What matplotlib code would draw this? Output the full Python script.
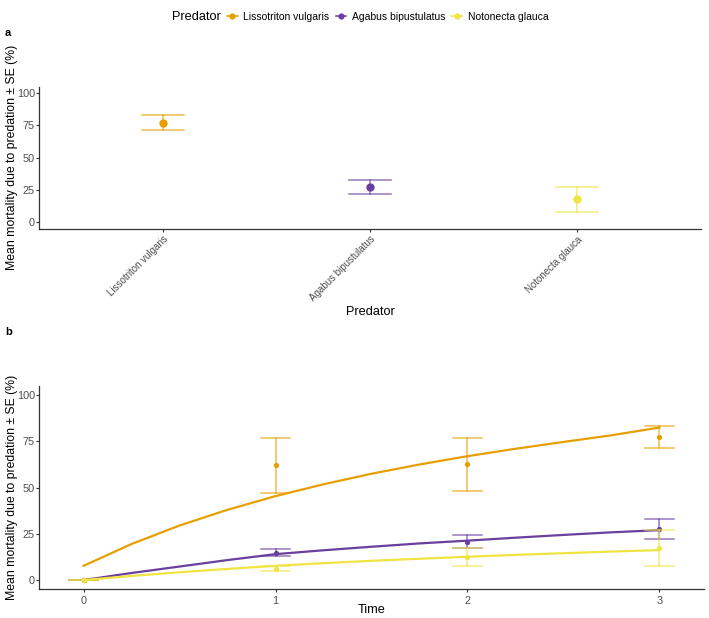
import numpy as np
import matplotlib
matplotlib.use("Agg")
import matplotlib.pyplot as plt
from matplotlib.lines import Line2D

plt.rcParams['font.family'] = ['Liberation Sans', 'DejaVu Sans']

# ---- data ----
predators = ["Lissotriton vulgaris", "Agabus bipustulatus", "Notonecta glauca"]
colors = ["#E69F00", "#6A3F9E", "#F0E442"]

# panel a: overall mean mortality and SE bounds
mean_a = [77.0, 27.4, 17.6]
lower_a = [71.1, 22.2, 7.8]
upper_a = [83.2, 32.6, 27.1]

# panel b: mean mortality per time point
times = [0, 1, 2, 3]
mean_b = {
    "Lissotriton vulgaris": [0, 62.2, 62.7, 77.5],
    "Agabus bipustulatus": [0, 14.8, 20.7, 27.6],
    "Notonecta glauca": [0, 6.1, 12.6, 17.5],
}
lower_b = {
    "Lissotriton vulgaris": [0, 47.2, 48.3, 71.4],
    "Agabus bipustulatus": [0, 13.0, 17.1, 22.2],
    "Notonecta glauca": [0, 4.9, 7.6, 7.7],
}
upper_b = {
    "Lissotriton vulgaris": [0, 77.1, 77.1, 83.2],
    "Agabus bipustulatus": [0, 16.6, 24.3, 32.8],
    "Notonecta glauca": [0, 7.7, 17.1, 27.0],
}

# fitted curves, every quarter time unit
fit_t = [0, 0.25, 0.5, 0.75, 1, 1.25, 1.5, 1.75, 2, 2.25, 2.5, 2.75, 3]
fit_b = {
    "Lissotriton vulgaris": [7.7, 19.5, 29.5, 38.0, 45.4, 51.8, 57.5, 62.5, 67.0, 71.0, 74.7, 78.3, 82.5],
    "Agabus bipustulatus": [0, 3.8, 7.3, 10.8, 14.0, 16.1, 18.0, 19.8, 21.3, 22.9, 24.4, 25.8, 27.0],
    "Notonecta glauca": [0, 2.2, 4.2, 6.0, 7.7, 9.1, 10.4, 11.5, 12.6, 13.6, 14.5, 15.4, 16.2],
}

tick_col = "#4D4D4D"
title_size = 9.2

fig = plt.figure(figsize=(7.09, 6.18), dpi=100)
ax_a = fig.add_axes([0.055, 0.630, 0.9337, 0.2298])
ax_b = fig.add_axes([0.055, 0.0465, 0.938, 0.329])


def style(ax, ylab_x):
    for s in ["top", "right"]:
        ax.spines[s].set_visible(False)
    for s in ["left", "bottom"]:
        ax.spines[s].set_color("#333333")
        ax.spines[s].set_linewidth(0.9)
    ax.tick_params(colors="#333333", labelcolor=tick_col, labelsize=7.8,
                   length=2, width=0.8, pad=1)
    ax.set_ylim(-5, 105)
    ax.set_yticks([0, 25, 50, 75, 100])
    ax.set_ylabel("Mean mortality due to predation ± SE (%)", fontsize=8.8)
    ax.yaxis.set_label_coords(ylab_x, 0.5)


# ---- panel a ----
xa = np.arange(1, len(predators) + 1)
for i, p in enumerate(predators):
    ax_a.plot([xa[i], xa[i]], [lower_a[i], upper_a[i]], color=colors[i], lw=1.1, alpha=0.7)
    for yv in (lower_a[i], upper_a[i]):
        ax_a.plot([xa[i] - 0.1, xa[i] + 0.1], [yv, yv], color=colors[i], lw=1.1, alpha=0.7)
    ax_a.plot(xa[i], mean_a[i], "o", color=colors[i], ms=6, mec="none")
style(ax_a, -0.031)
ax_a.set_xlim(0.4, 3.6)
ax_a.set_xticks(xa)
ax_a.set_xticklabels(predators, rotation=45, ha="right", rotation_mode="anchor", fontsize=7.0)
ax_a.tick_params(axis="x", pad=2)
ax_a.set_xlabel("Predator", fontsize=title_size, va="center")
ax_a.xaxis.set_label_coords(0.5, -0.588)

# ---- panel b ----
for i, p in enumerate(predators):
    for j, t in enumerate(times):
        ax_b.plot([t, t], [lower_b[p][j], upper_b[p][j]], color=colors[i], lw=1.1, alpha=0.7)
        for yv in (lower_b[p][j], upper_b[p][j]):
            ax_b.plot([t - 0.075, t + 0.075], [yv, yv], color=colors[i], lw=1.1, alpha=0.7)
    ax_b.plot(fit_t, fit_b[p], color=colors[i], lw=1.6)
    ax_b.plot(times, mean_b[p], "o", color=colors[i], ms=3.8, mec="none")
style(ax_b, -0.031)
ax_b.set_xlim(-0.2325, 3.2325)
ax_b.set_xticks(times)
ax_b.tick_params(axis="x", pad=2.5)
ax_b.set_xlabel("Time", fontsize=title_size, va="center")
ax_b.xaxis.set_label_coords(0.5, -0.102)

# panel tags
fig.text(5 / 709, 1 - 33 / 618, "a", fontsize=8, fontweight="bold", va="center")
fig.text(5 / 709, 1 - 332 / 618, "b", fontsize=8, fontweight="bold", va="center")

# legend on top
fig.text(172 / 709, 1 - 17 / 618, "Predator", fontsize=title_size, va="center")
handles = [Line2D([0], [0], color=c, lw=1.1, marker="o", ms=4.5, mec="none") for c in colors]
fig.legend(handles, predators, loc="center left", bbox_to_anchor=(227 / 709, 1 - 17 / 618),
           ncol=3, frameon=False, fontsize=7.5, handlelength=1.05, handletextpad=0.5,
           columnspacing=0.6, borderpad=0, borderaxespad=0)

fig.savefig("out.png", dpi=100)
